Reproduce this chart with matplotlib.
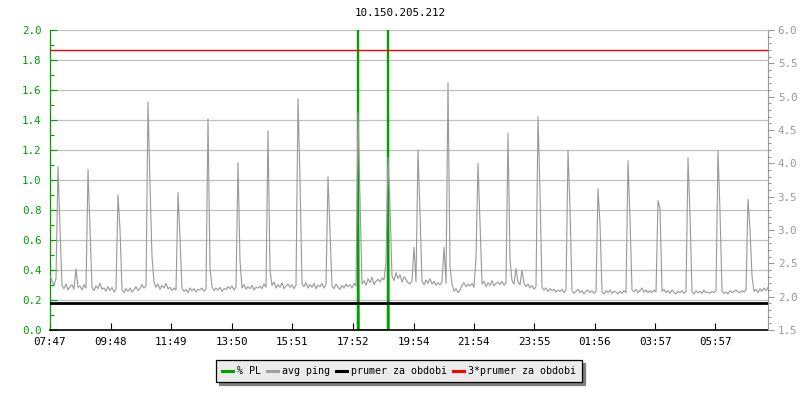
import matplotlib
matplotlib.use('Agg')
import matplotlib.pyplot as plt
from matplotlib.lines import Line2D
from matplotlib.ticker import MultipleLocator

plt.rcParams['font.family'] = 'DejaVu Sans Mono'
plt.rcParams['font.size'] = 7.3

title = '10.150.205.212'

# avg ping [ms], one sample every 4 minutes, one row = one hour
step_min = 4
avg_ping = [
    2.31, 2.24, 2.17, 2.27, 3.95, 3.03, 2.17, 2.12, 2.19, 2.10, 2.15, 2.18, 2.11, 2.42, 2.14,
    2.16, 2.10, 2.18, 2.13, 3.91, 3.00, 2.14, 2.09, 2.16, 2.12, 2.20, 2.11, 2.13, 2.08, 2.15,
    2.09, 2.14, 2.07, 2.11, 3.53, 3.01, 2.10, 2.06, 2.12, 2.08, 2.13, 2.07, 2.10, 2.15, 2.09,
    2.12, 2.18, 2.13, 2.16, 4.92, 3.68, 2.60, 2.22, 2.14, 2.19, 2.11, 2.17, 2.13, 2.20, 2.12,
    2.14, 2.09, 2.13, 2.10, 3.56, 2.88, 2.12, 2.08, 2.11, 2.06, 2.13, 2.09, 2.12, 2.07, 2.11,
    2.10, 2.13, 2.08, 2.12, 4.67, 2.42, 2.15, 2.09, 2.13, 2.10, 2.14, 2.08, 2.12, 2.11, 2.15,
    2.12, 2.16, 2.10, 2.14, 4.01, 2.54, 2.13, 2.18, 2.11, 2.15, 2.12, 2.17, 2.10, 2.14, 2.13,
    2.16, 2.12, 2.19, 2.14, 4.49, 2.40, 2.17, 2.22, 2.13, 2.18, 2.14, 2.21, 2.12, 2.16, 2.19,
    2.14, 2.18, 2.12, 2.17, 4.97, 3.77, 2.19, 2.15, 2.21, 2.13, 2.18, 2.14, 2.20, 2.12, 2.17,
    2.15, 2.20, 2.13, 2.18, 3.80, 3.00, 2.16, 2.12, 2.19, 2.14, 2.11, 2.17, 2.13, 2.19, 2.15,
    2.18, 2.13, 2.20, 2.16, 4.76, 3.50, 2.19, 2.24, 2.17, 2.27, 2.21, 2.29, 2.18, 2.23, 2.26,
    2.22, 2.28, 2.25, 2.51, 4.09, 3.37, 2.31, 2.24, 2.36, 2.27, 2.33, 2.22, 2.30, 2.26, 2.21,
    2.19, 2.24, 2.74, 2.22, 4.20, 3.26, 2.23, 2.18, 2.25, 2.20, 2.27, 2.19, 2.23, 2.17, 2.21,
    2.18, 2.22, 2.74, 2.20, 5.21, 2.45, 2.19, 2.08, 2.12, 2.06, 2.10, 2.17, 2.21, 2.15, 2.19,
    2.16, 2.20, 2.14, 2.58, 4.00, 3.12, 2.19, 2.23, 2.15, 2.21, 2.17, 2.24, 2.16, 2.20, 2.22,
    2.18, 2.23, 2.17, 2.21, 4.45, 2.56, 2.24, 2.19, 2.42, 2.22, 2.18, 2.40, 2.20, 2.15, 2.19,
    2.13, 2.17, 2.11, 2.15, 4.70, 3.57, 2.14, 2.10, 2.13, 2.08, 2.12, 2.09, 2.11, 2.07, 2.10,
    2.08, 2.11, 2.06, 2.10, 4.19, 3.32, 2.09, 2.05, 2.08, 2.11, 2.06, 2.09, 2.04, 2.08, 2.10,
    2.06, 2.09, 2.05, 2.08, 3.62, 3.10, 2.07, 2.04, 2.09, 2.06, 2.10, 2.05, 2.08, 2.07, 2.04,
    2.08, 2.05, 2.09, 2.06, 4.04, 3.17, 2.10, 2.07, 2.11, 2.06, 2.09, 2.13, 2.07, 2.10, 2.06,
    2.09, 2.06, 2.10, 2.07, 3.44, 3.32, 2.08, 2.11, 2.06, 2.09, 2.05, 2.10, 2.07, 2.04, 2.08,
    2.06, 2.09, 2.05, 2.08, 4.08, 3.23, 2.07, 2.04, 2.09, 2.06, 2.08, 2.05, 2.10, 2.06, 2.07,
    2.05, 2.08, 2.06, 2.09, 4.19, 3.28, 2.08, 2.05, 2.07, 2.04, 2.09, 2.06, 2.08, 2.10, 2.07,
    2.06, 2.09, 2.07, 2.10, 3.46, 3.01, 2.31, 2.08, 2.11, 2.06, 2.12, 2.08, 2.13, 2.09, 2.14,
]

# packet loss [%], only around the two outages (zero elsewhere)
pl_minutes = [615, 616, 617, 618, 675, 676, 677, 678]
pl_pct = [0.0, 8.0, 1.0, 0.0, 0.0, 8.0, 1.0, 0.0]

prumer = 1.90  # ms

tick_minutes = [0, 121, 242, 363, 484, 605, 727, 847, 968, 1089, 1210, 1330]
tick_labels = ['07:47', '09:48', '11:49', '13:50', '15:51', '17:52',
               '19:54', '21:54', '23:55', '01:56', '03:57', '05:57']

GREEN = '#00a000'
GRAY = '#999999'

minutes = [i * step_min for i in range(len(avg_ping))]

fig = plt.figure(figsize=(8, 4), dpi=100)
ax = fig.add_axes([50 / 800, 70 / 400, 718 / 800, 300 / 400])
ax2 = ax.twinx()

# left axis: % PL
ax.plot(pl_minutes, pl_pct, color=GREEN, lw=1.1, solid_capstyle='butt')
ax.set_ylim(0, 2.0)
ax.set_xlim(0, (len(avg_ping) - 1) * step_min)
ax.yaxis.set_major_locator(MultipleLocator(0.2))
ax.yaxis.set_minor_locator(MultipleLocator(0.1))
ax.yaxis.set_major_formatter(plt.FormatStrFormatter('%.1f'))
ax.grid(axis='y', color='#c0c0c0', lw=0.9)
ax.set_axisbelow(True)
ax.tick_params(axis='y', which='major', direction='in', length=5, width=0.8,
               color=GREEN, labelcolor=GREEN, pad=6, labelsize=7.8)
ax.tick_params(axis='y', which='minor', direction='in', length=3, width=0.8, color=GREEN)
ax.set_xticks(tick_minutes)
ax.set_xticklabels(tick_labels)
ax.tick_params(axis='x', direction='in', length=5, width=0.8, color='black', pad=5,
               labelsize=7.8)
ax.spines['left'].set_color(GREEN)
ax.spines['left'].set_linewidth(0.9)
ax.spines['bottom'].set_linewidth(1.2)
ax.spines['top'].set_visible(False)
ax.spines['right'].set_visible(False)

# right axis: ping [ms]
ax2.plot(minutes, avg_ping, color=GRAY, lw=0.8)
ax2.axhline(prumer, color='black', lw=2.0)
ax2.axhline(3 * prumer, color='#ff0000', lw=1.0)
ax2.set_ylim(1.5, 6.0)
ax2.yaxis.set_major_locator(MultipleLocator(0.5))
ax2.yaxis.set_minor_locator(MultipleLocator(0.1))
ax2.yaxis.set_major_formatter(plt.FormatStrFormatter('%.1f'))
ax2.tick_params(axis='y', which='major', direction='out', length=4, width=0.8,
                color=GRAY, labelcolor=GRAY, pad=3, labelsize=7.8)
ax2.tick_params(axis='y', which='minor', direction='out', length=2, width=0.8, color=GRAY)
ax2.spines['right'].set_color(GRAY)
ax2.spines['right'].set_linewidth(0.8)
for s in ['top', 'left', 'bottom']:
    ax2.spines[s].set_visible(False)

fig.text(0.5, 1 - 13 / 400, title, ha='center', va='center', fontsize=7.8)

handles = [Line2D([], [], color=GREEN, lw=2.2),
           Line2D([], [], color='#a0a0a0', lw=2.2),
           Line2D([], [], color='black', lw=2.2),
           Line2D([], [], color='#ff0000', lw=2.2)]
labels = ['% PL', 'avg ping', 'prumer za obdobi', '3*prumer za obdobi']
leg = fig.legend(handles, labels, loc='center', bbox_to_anchor=(399 / 800, 1 - 371 / 400),
                 ncol=4, frameon=True, fancybox=False, shadow={'color': '#808080', 'alpha': 1},
                 handlelength=1.1, handletextpad=0.4, columnspacing=0.6,
                 borderpad=0.6, fontsize=7.2)
leg.get_frame().set_facecolor('#ebebeb')
leg.get_frame().set_edgecolor('black')
leg.get_frame().set_linewidth(0.9)
leg.get_frame().set_alpha(1)

fig.savefig('out.png', dpi=100)
